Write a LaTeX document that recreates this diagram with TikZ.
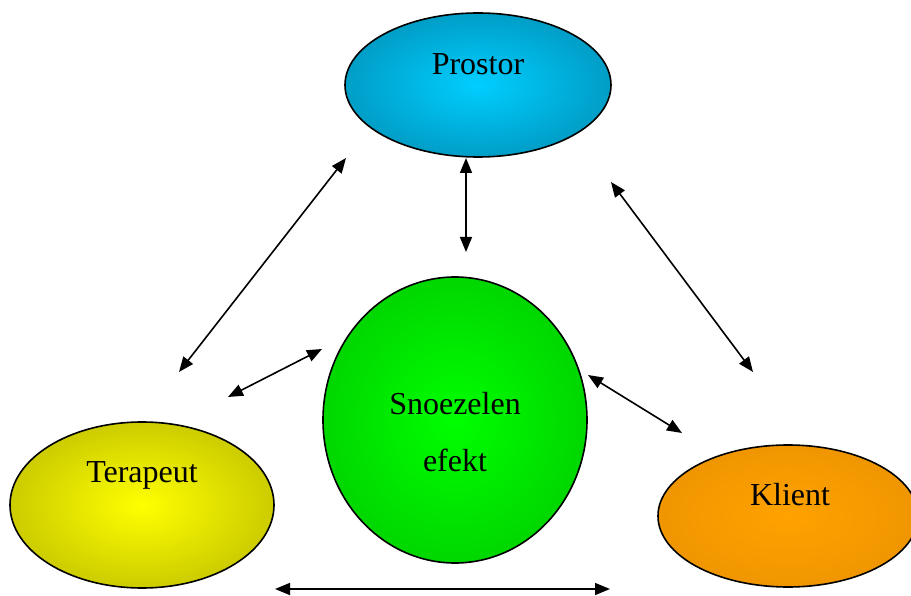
\documentclass[tikz,border=0pt]{standalone}
\usepackage{fontspec}
\setmainfont{Liberation Serif}
\usetikzlibrary{arrows.meta,shapes.geometric}
\definecolor{proin}{RGB}{0,206,255}
\definecolor{proout}{RGB}{0,152,192}
\definecolor{terin}{RGB}{255,255,0}
\definecolor{terout}{RGB}{198,198,0}
\definecolor{snoin}{RGB}{0,255,0}
\definecolor{snoout}{RGB}{0,210,0}
\definecolor{kliin}{RGB}{255,162,0}
\definecolor{kliout}{RGB}{238,148,0}
\pgfdeclareradialshading{proshade}{\pgfpoint{0bp}{0bp}}{color(0bp)=(proin); color(28bp)=(proout); color(75bp)=(proout)}
\pgfdeclareradialshading{tershade}{\pgfpoint{0bp}{0bp}}{color(0bp)=(terin); color(28bp)=(terout); color(75bp)=(terout)}
\pgfdeclareradialshading{snoshade}{\pgfpoint{0bp}{0bp}}{color(0bp)=(snoin); color(28bp)=(snoout); color(75bp)=(snoout)}
\pgfdeclareradialshading{klishade}{\pgfpoint{0bp}{0bp}}{color(0bp)=(kliin); color(28bp)=(kliout); color(75bp)=(kliout)}
\tikzset{
  blob/.style={ellipse, draw=black, line width=1.6pt, inner sep=0pt},
  lbl/.style={font=\fontsize{32}{57}\selectfont, align=center, inner sep=0pt},
  link/.style={{Triangle[length=15pt,width=12pt]}-{Triangle[length=15pt,width=12pt]}, line width=1.6pt}
}
\begin{document}
\begin{tikzpicture}[x=1pt,y=-1pt]
\useasboundingbox (0,0) rectangle (911,596);
\begin{scope}
\clip (0,0) rectangle (911,596);
\node[blob, shading=proshade, minimum width=266pt, minimum height=144pt] (prostor) at (478,85) {};
\node[blob, shading=snoshade, minimum width=264pt, minimum height=286pt] (snoez) at (455,420) {};
\node[blob, shading=tershade, minimum width=264pt, minimum height=166pt] (terap) at (142,505) {};
\node[blob, shading=klishade, minimum width=260pt, minimum height=142pt] (klient) at (788,516) {};
\end{scope}
\node[lbl] (tprostor) at (478,64) {Prostor};
\node[lbl] (tsnoez) at (455,432) {Snoezelen\\efekt};
\node[lbl] (tterap) at (142,475) {Terapeut};
\node[lbl] (tklient) at (790,495) {Klient};
\coordinate (a1) at (346,158);
\coordinate (a2) at (179,372);
\coordinate (b1) at (466,158);
\coordinate (b2) at (466,252);
\coordinate (c1) at (611,182);
\coordinate (c2) at (753,372);
\coordinate (d1) at (322,349);
\coordinate (d2) at (228,397);
\coordinate (e1) at (588,375);
\coordinate (e2) at (682,433);
\coordinate (f1) at (275,589);
\coordinate (f2) at (610,589);
\draw[link] (a1) -- (a2);
\draw[link] (b1) -- (b2);
\draw[link] (c1) -- (c2);
\draw[link] (d1) -- (d2);
\draw[link] (e1) -- (e2);
\draw[link] (f1) -- (f2);
\end{tikzpicture}
\end{document}
